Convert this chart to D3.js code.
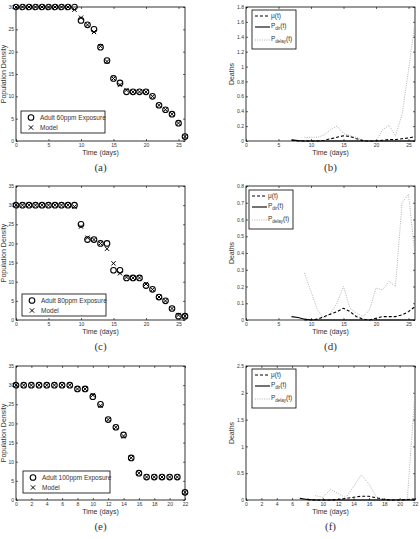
<!DOCTYPE html>
<html>
<head>
<meta charset="utf-8">
<script src="https://cdn.jsdelivr.net/npm/d3@7"></script>
<style>
body { margin: 0; background: #fff; }
text { font-family: "Liberation Sans", Arial, sans-serif; fill: #333; }
.cap { font-family: "Liberation Serif", "DejaVu Serif", serif; fill: #333; }
</style>
</head>
<body>
<script>
// days
var days26 = [0,1,2,3,4,5,6,7,8,9,10,11,12,13,14,15,16,17,18,19,20,21,22,23,24,25,26];
var days22 = [0,1,2,3,4,5,6,7,8,9,10,11,12,13,14,15,16,17,18,19,20,21,22];

// (a) 60ppm
var obs60   = [30,30,30,30,30,30,30,30,30,30,27,26,25,21,18,14,13,11,11,11,11,10,8,7,6,4,1];
var model60 = [30,30,30,30,30,30,30,30,30,29.4,27.6,26,24.4,21.2,17.8,14,12.6,11.4,11,11,11,10,8,7,6,4,1];
// (c) 80ppm
var obs80   = [30,30,30,30,30,30,30,30,30,30,25,21,21,20,20,13,13,11,11,11,9,8,6,5,3,1,1];
var model80 = [30,30,30,30,30,30,30,30,30,29.6,24.4,21.5,21,20,18.6,14.8,12.2,11.2,11,11,9.4,8,6,5,3,1.3,1];
// (e) 100ppm
var obs100   = [30,30,30,30,30,30,30,30,29,29,27,25,21,19,17,11,7,6,6,6,6,6,2];
var model100 = [30,30,30,30,30,30,30,30,29,29,27.4,24.6,21,19,16.7,11,7,6,6,6,6,6,2];

// deaths (b)
var mu60    = [null,null,null,null,null,null,null,0.01,0,0,0,0,0.01,0.03,0.05,0.07,0.06,0.03,0.005,0,0,0.01,0.02,0.02,0.03,0.04,0.06];
var pdir60  = [null,null,null,null,null,null,null,0.015,0.005,0,0,0,0,0,0,0,0,0,0,0,0,0,0,0,0,0,0];
var pdel60  = [null,null,null,null,null,null,null,null,null,0.05,0.05,0.05,0.08,0.15,0.2,0.1,0.07,0.05,0.01,0,0,0.15,0.21,0.07,0.35,0.95,1.6];
// deaths (d)
var mu80    = [null,null,null,null,null,null,null,null,null,0,0,0.005,0.02,0.035,0.05,0.07,0.05,0.02,0.005,0,0.01,0.02,0.02,0.02,0.03,0.05,0.08];
var pdir80  = [null,null,null,null,null,null,null,0.02,0.015,0.005,0,0,0,0,0,0,0,0,0,0,0,0,0,0,0,0,0];
var pdel80  = [null,null,null,null,null,null,null,null,null,0.28,0.17,0.06,0.01,0.04,0.1,0.2,0.07,0.04,0.02,0.06,0.19,0.18,0.23,0.2,0.7,0.75,0.39];
// deaths (f)
var mu100   = [null,null,null,null,null,null,null,null,0.005,0,0,0,0.01,0.03,0.05,0.07,0.07,0.04,0.01,0,0,0.01,0.02];
var pdir100 = [null,null,null,null,null,null,null,0.03,0.01,0,0,0,0,0,0,0,0,0,0,0,0,0,0];
var pdel100 = [null,null,null,null,null,null,null,null,null,0.08,0.05,0.2,0.12,0.04,0.25,0.47,0.3,0.05,0.01,0,0,0.02,2.0];

var popTicks = [0,5,10,15,20,25,30,35];
var dayTicks5 = [0,5,10,15,20,25];
var dayTicks2 = [0,2,4,6,8,10,12,14,16,18,20,22];

var svg = d3.select("body").append("svg").attr("width", 420).attr("height", 539);

function frame(g, x, y, w, h, xticks, yticks, yfmt) {
  g.append("rect").attr("x", 0).attr("y", 0).attr("width", w).attr("height", h)
    .attr("fill", "none").attr("stroke", "#000").attr("stroke-width", 0.8);
  var xa = d3.axisBottom(x).tickValues(xticks).tickSizeInner(-2).tickSizeOuter(0).tickPadding(2);
  var ya = d3.axisLeft(y).tickValues(yticks).tickSizeInner(-2).tickSizeOuter(0).tickPadding(2).tickFormat(yfmt);
  g.append("g").attr("transform", "translate(0," + h + ")").call(xa);
  g.append("g").call(ya);
  // mirrored ticks on top and right
  g.append("g").call(d3.axisTop(x).tickValues(xticks).tickSizeInner(-2).tickSizeOuter(0).tickFormat(""));
  g.append("g").attr("transform", "translate(" + w + ",0)")
    .call(d3.axisRight(y).tickValues(yticks).tickSizeInner(-2).tickSizeOuter(0).tickFormat(""));
  g.selectAll(".domain").remove();
  g.selectAll(".tick line").attr("stroke", "#000").attr("stroke-width", 0.6);
  g.selectAll(".tick text").attr("font-size", 5).attr("fill", "#444");
}

function popPanel(left, top, days, obs, model, xmax, ymax, xticks, label, cap, leg) {
  var w = 169, h = 134;
  var g = svg.append("g").attr("transform", "translate(" + left + "," + top + ")");
  var x = d3.scaleLinear().domain([0, xmax]).range([0, w]);
  var y = d3.scaleLinear().domain([0, ymax]).range([h, 0]);
  frame(g, x, y, w, h, xticks, popTicks.filter(function(d) { return d <= ymax; }), d3.format("d"));

  g.selectAll(".obs").data(days).enter().append("circle")
    .attr("cx", function(d) { return x(d); })
    .attr("cy", function(d, i) { return y(obs[i]); })
    .attr("r", 2.8).attr("fill", "none").attr("stroke", "#000").attr("stroke-width", 1.1);
  var cross = d3.symbol().type(d3.symbolX).size(14);
  g.selectAll(".mod").data(days).enter().append("path")
    .attr("d", cross)
    .attr("transform", function(d, i) { return "translate(" + x(d) + "," + y(model[i]) + ")"; })
    .attr("fill", "none").attr("stroke", "#000").attr("stroke-width", 1);

  g.append("text").attr("x", w / 2).attr("y", h + 14).attr("text-anchor", "middle")
    .attr("font-size", 7).text("Time (days)");
  g.append("text").attr("transform", "translate(-10," + (h / 2) + ") rotate(-90)")
    .attr("text-anchor", "middle").attr("font-size", 7).text("Population Density");

  var lg = g.append("g").attr("transform", "translate(" + leg[0] + "," + leg[1] + ")");
  lg.append("rect").attr("width", leg[2]).attr("height", 22).attr("fill", "#fff")
    .attr("stroke", "#000").attr("stroke-width", 0.8);
  lg.append("circle").attr("cx", 10).attr("cy", 6.5).attr("r", 2.8)
    .attr("fill", "none").attr("stroke", "#000").attr("stroke-width", 1.1);
  lg.append("path").attr("d", cross).attr("transform", "translate(10,16.5)")
    .attr("fill", "none").attr("stroke", "#000").attr("stroke-width", 1);
  lg.append("text").attr("x", 19).attr("y", 9).attr("font-size", 6.5).text(label);
  lg.append("text").attr("x", 19).attr("y", 19).attr("font-size", 6.5).text("Model");

  svg.append("text").attr("class", "cap").attr("x", left + w / 2).attr("y", top + h + 30)
    .attr("text-anchor", "middle").attr("font-size", 11).text(cap);
}

function deathPanel(left, top, days, mu, pdir, pdel, xmax, ymax, xticks, yticks, yfmt, cap, leg) {
  var w = 169, h = 134;
  var g = svg.append("g").attr("transform", "translate(" + left + "," + top + ")");
  var x = d3.scaleLinear().domain([0, xmax]).range([0, w]);
  var y = d3.scaleLinear().domain([0, ymax]).range([h, 0]);
  frame(g, x, y, w, h, xticks, yticks, yfmt);

  function line(vals) {
    return d3.line().defined(function(d, i) { return vals[i] !== null; })
      .x(function(d) { return x(d); })
      .y(function(d, i) { return y(vals[i]); })(days);
  }
  g.append("path").attr("d", line(pdel)).attr("fill", "none").attr("stroke", "#aaa")
    .attr("stroke-width", 0.9).attr("stroke-dasharray", "1,1.3");
  g.append("path").attr("d", line(pdir)).attr("fill", "none").attr("stroke", "#000")
    .attr("stroke-width", 1.1);
  g.append("path").attr("d", line(mu)).attr("fill", "none").attr("stroke", "#000")
    .attr("stroke-width", 1.1).attr("stroke-dasharray", "3,2");

  g.append("text").attr("x", w / 2).attr("y", h + 14).attr("text-anchor", "middle")
    .attr("font-size", 7).text("Time (days)");
  g.append("text").attr("transform", "translate(-12," + (h / 2) + ") rotate(-90)")
    .attr("text-anchor", "middle").attr("font-size", 7).text("Deaths");

  var lg = g.append("g").attr("transform", "translate(" + leg[0] + "," + leg[1] + ")");
  lg.append("rect").attr("width", 44).attr("height", 39).attr("fill", "#fff")
    .attr("stroke", "#000").attr("stroke-width", 0.8);
  var rows = [
    {y: 6, dash: "3,2", col: "#000", sw: 1.1},
    {y: 17, dash: null, col: "#000", sw: 1.1},
    {y: 30, dash: "1,1.3", col: "#aaa", sw: 0.9}
  ];
  rows.forEach(function(r) {
    lg.append("line").attr("x1", 3).attr("x2", 18).attr("y1", r.y).attr("y2", r.y)
      .attr("stroke", r.col).attr("stroke-width", r.sw).attr("stroke-dasharray", r.dash);
  });
  lg.append("text").attr("x", 19).attr("y", 8).attr("font-size", 6.5).text("\u03bc(t)");
  var t2 = lg.append("text").attr("x", 19).attr("y", 18).attr("font-size", 6.5);
  t2.append("tspan").text("P");
  t2.append("tspan").attr("font-size", 4.5).attr("dy", 2).text("dir");
  t2.append("tspan").attr("dy", -2).text("(t)");
  var t3 = lg.append("text").attr("x", 19).attr("y", 31).attr("font-size", 6.5);
  t3.append("tspan").text("P");
  t3.append("tspan").attr("font-size", 4.5).attr("dy", 2).text("delay");
  t3.append("tspan").attr("dy", -2).text("(t)");

  svg.append("text").attr("class", "cap").attr("x", left + w / 2).attr("y", top + h + 30)
    .attr("text-anchor", "middle").attr("font-size", 11).text(cap);
}

popPanel(16, 7, days26, obs60, model60, 26, 30, dayTicks5, "Adult 60ppm Exposure", "(a)", [5, 104, 84]);
popPanel(16, 186, days26, obs80, model80, 26, 35, dayTicks5, "Adult 80ppm Exposure", "(c)", [6, 108, 84]);
popPanel(16, 366, days22, obs100, model100, 22, 35, dayTicks2, "Adult 100ppm Exposure", "(e)", [7, 105, 87]);

var fmt = function(d) { return d3.format("~g")(d); };
deathPanel(246, 7, days26, mu60, pdir60, pdel60, 26, 1.8, dayTicks5,
  [0,0.2,0.4,0.6,0.8,1,1.2,1.4,1.6,1.8], fmt, "(b)", [6, 3]);
deathPanel(246, 186, days26, mu80, pdir80, pdel80, 26, 0.8, dayTicks5,
  [0,0.1,0.2,0.3,0.4,0.5,0.6,0.7,0.8], fmt, "(d)", [3, 4]);
deathPanel(246, 366, days22, mu100, pdir100, pdel100, 22, 2.5, dayTicks2,
  [0,0.5,1,1.5,2,2.5], fmt, "(f)", [6, 3]);
</script>
</body>
</html>
